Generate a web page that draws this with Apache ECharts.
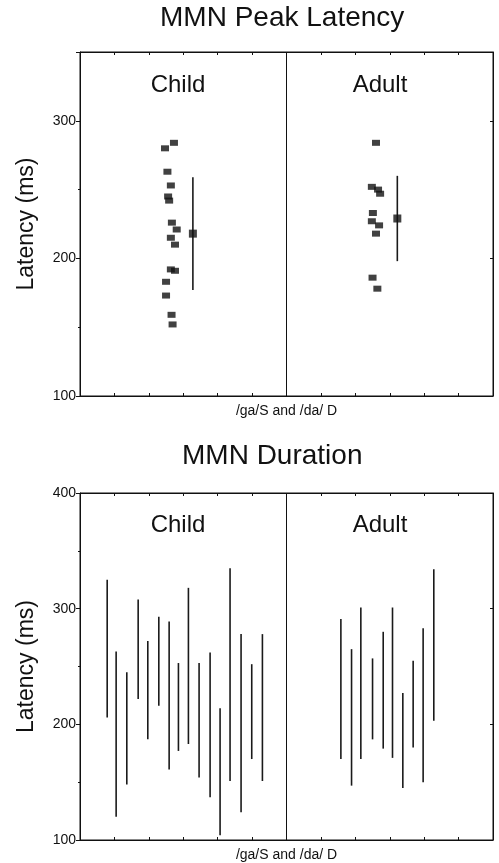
<!DOCTYPE html>
<html><head><meta charset="utf-8">
<script src="https://cdn.jsdelivr.net/npm/echarts@6/dist/echarts.min.js"></script>
<style>html,body{margin:0;padding:0;background:#fff}#c{width:499px;height:863px}</style>
</head><body><div id="c"></div>
<script>
// ---- text ----
const titles = ['MMN Peak Latency', 'MMN Duration'];
const groups = ['Child', 'Adult'];
const xAxisName = '/ga/S and /da/ D';
const yAxisName = 'Latency (ms)';
const latencyTicks = [100, 200, 300];
const durationTicks = [100, 200, 300, 400];

// ---- MMN peak latency (ms), individual subjects, with horizontal jitter position ----
const childLatency  = [280, 284, 263, 253, 245, 242, 226, 221, 215, 210, 192, 191, 183, 173, 159, 152];
const childLatencyX = [2.47, 2.73, 2.54, 2.64, 2.56, 2.59, 2.67, 2.81, 2.64, 2.76, 2.64, 2.76, 2.50, 2.50, 2.66, 2.69];
const adultLatency  = [284, 252, 250, 247, 233, 227, 224, 218, 186, 178];
const adultLatencyX = [8.60, 8.48, 8.66, 8.72, 8.51, 8.48, 8.69, 8.60, 8.50, 8.64];
// group mean +/- SD
const latencyMean  = [218, 229];
const latencySD    = [41, 31];
const latencyMeanX = [3.28, 9.22];

// ---- MMN duration: onset (low) and offset (high) per subject ----
const childDurLow  = [206, 120, 148, 222, 187, 216, 161, 177, 183, 154, 137, 104, 151, 124, 170, 151];
const childDurHigh = [325, 263, 245, 308, 272, 293, 289, 253, 318, 253, 262, 214, 335, 278, 252, 278];
const childDurX    = [0.79, 1.05, 1.36, 1.69, 1.97, 2.29, 2.59, 2.86, 3.15, 3.46, 3.78, 4.07, 4.36, 4.68, 4.99, 5.30];
const adultDurLow  = [170, 147, 170, 187, 179, 171, 145, 180, 150, 203];
const adultDurHigh = [291, 265, 301, 257, 280, 301, 227, 255, 283, 334];
const adultDurX    = [7.58, 7.89, 8.16, 8.50, 8.81, 9.08, 9.38, 9.68, 9.97, 10.28];

// ---- build ----
const FONT = '"Liberation Sans", Arial, sans-serif';
const INK = '#111';
const zip = (xs, ys) => xs.map((x, i) => [x, ys[i]]);
const zip3 = (xs, a, b) => xs.map((x, i) => [x, a[i], b[i]]);

const grids = [
  { left: 80, right: 6, top: 52, height: 344, show: true, borderColor: INK, borderWidth: 1 },
  { left: 80, right: 6, top: 493, height: 348, show: true, borderColor: INK, borderWidth: 1 }
];

function bottomX(gi) {
  return {
    type: 'value', gridIndex: gi, min: 0, max: 12, interval: 1, position: 'bottom',
    name: xAxisName, nameLocation: 'middle', nameGap: 8,
    nameTextStyle: { fontFamily: FONT, fontSize: 14, color: INK, verticalAlign: 'top' },
    axisLine: { show: true, onZero: false, lineStyle: { color: INK, width: 1 } },
    axisTick: { show: true, inside: true, length: 3, lineStyle: { color: INK } },
    axisLabel: { show: false }, splitLine: { show: false }
  };
}
function topX(gi) {
  return {
    type: 'value', gridIndex: gi, min: 0, max: 12, interval: 1, position: 'top',
    axisLine: { show: true, onZero: false, lineStyle: { color: INK, width: 1 } },
    axisTick: { show: true, inside: true, length: 3, lineStyle: { color: INK } },
    axisLabel: { show: false }, splitLine: { show: false }
  };
}
function leftY(gi, min, max, ticks) {
  return {
    type: 'value', gridIndex: gi, min: min, max: max, interval: 100, position: 'left',
    name: yAxisName, nameLocation: 'middle', nameGap: 42, nameRotate: 90,
    nameTextStyle: { fontFamily: FONT, fontSize: 23, color: INK },
    axisLine: { show: true, onZero: false, lineStyle: { color: INK, width: 1 } },
    axisTick: { show: true, inside: false, length: 4, lineStyle: { color: INK } },
    minorTick: { show: true, splitNumber: 2, length: 2, lineStyle: { color: INK } },
    axisLabel: {
      show: true, margin: 4, fontFamily: FONT, fontSize: 14, color: INK, showMaxLabel: true,
      formatter: v => ticks.indexOf(v) >= 0 ? String(v) : ''
    },
    splitLine: { show: false }
  };
}
function rightY(gi, min, max) {
  return {
    type: 'value', gridIndex: gi, min: min, max: max, interval: 100, position: 'right',
    axisLine: { show: true, onZero: false, lineStyle: { color: INK, width: 1 } },
    axisTick: { show: true, inside: true, length: 3, lineStyle: { color: INK } },
    axisLabel: { show: false }, splitLine: { show: false }
  };
}

const vline = (params, api) => {
  const p1 = api.coord([api.value(0), api.value(1)]);
  const p2 = api.coord([api.value(0), api.value(2)]);
  return { type: 'line', shape: { x1: p1[0], y1: p1[1], x2: p2[0], y2: p2[1] },
           style: { stroke: '#1a1a1a', lineWidth: 1.6 } };
};

const divider = {
  silent: true, symbol: 'none', label: { show: false },
  lineStyle: { color: INK, width: 1, type: 'solid' },
  data: [{ xAxis: 6 }]
};

const errLow = latencyMean.map((m, i) => m - latencySD[i]);
const errHigh = latencyMean.map((m, i) => m + latencySD[i]);

const option = {
  animation: false,
  backgroundColor: '#fff',
  title: [
    { text: titles[0], left: 160, top: 4, padding: 0,
      textStyle: { fontFamily: FONT, fontSize: 28, fontWeight: 'normal', color: INK } },
    { text: titles[1], left: 182, top: 442, padding: 0,
      textStyle: { fontFamily: FONT, fontSize: 28, fontWeight: 'normal', color: INK } }
  ],
  grid: grids,
  xAxis: [bottomX(0), topX(0), bottomX(1), topX(1)],
  yAxis: [leftY(0, 100, 350, latencyTicks), rightY(0, 100, 350), leftY(1, 100, 400, durationTicks), rightY(1, 100, 400)],
  graphic: [
    { type: 'text', x: 178, y: 85, style: { text: groups[0], font: '24px ' + FONT, fill: INK, align: 'center', verticalAlign: 'middle' } },
    { type: 'text', x: 380, y: 85, style: { text: groups[1], font: '24px ' + FONT, fill: INK, align: 'center', verticalAlign: 'middle' } },
    { type: 'text', x: 178, y: 525, style: { text: groups[0], font: '24px ' + FONT, fill: INK, align: 'center', verticalAlign: 'middle' } },
    { type: 'text', x: 380, y: 525, style: { text: groups[1], font: '24px ' + FONT, fill: INK, align: 'center', verticalAlign: 'middle' } }
  ],
  series: [
    { name: groups[0] + ' latency', type: 'scatter', xAxisIndex: 0, yAxisIndex: 0,
      symbol: 'rect', symbolSize: [8, 6], itemStyle: { color: INK },
      data: zip(childLatencyX, childLatency), markLine: divider },
    { name: groups[1] + ' latency', type: 'scatter', xAxisIndex: 0, yAxisIndex: 0,
      symbol: 'rect', symbolSize: [8, 6], itemStyle: { color: INK },
      data: zip(adultLatencyX, adultLatency) },
    { name: 'SD', type: 'custom', xAxisIndex: 0, yAxisIndex: 0,
      encode: { x: 0, y: [1, 2] }, renderItem: vline,
      data: zip3(latencyMeanX, errLow, errHigh) },
    { name: 'Mean', type: 'scatter', xAxisIndex: 0, yAxisIndex: 0,
      symbol: 'rect', symbolSize: [8, 8], itemStyle: { color: INK }, z: 5,
      data: zip(latencyMeanX, latencyMean) },
    { name: groups[0] + ' duration', type: 'custom', xAxisIndex: 2, yAxisIndex: 2,
      encode: { x: 0, y: [1, 2] }, renderItem: vline,
      data: zip3(childDurX, childDurLow, childDurHigh), markLine: divider },
    { name: groups[1] + ' duration', type: 'custom', xAxisIndex: 2, yAxisIndex: 2,
      encode: { x: 0, y: [1, 2] }, renderItem: vline,
      data: zip3(adultDurX, adultDurLow, adultDurHigh) }
  ]
};

const chart = echarts.init(document.getElementById('c'), null, { renderer: 'canvas' });
chart.setOption(option);
</script>
</body></html>
